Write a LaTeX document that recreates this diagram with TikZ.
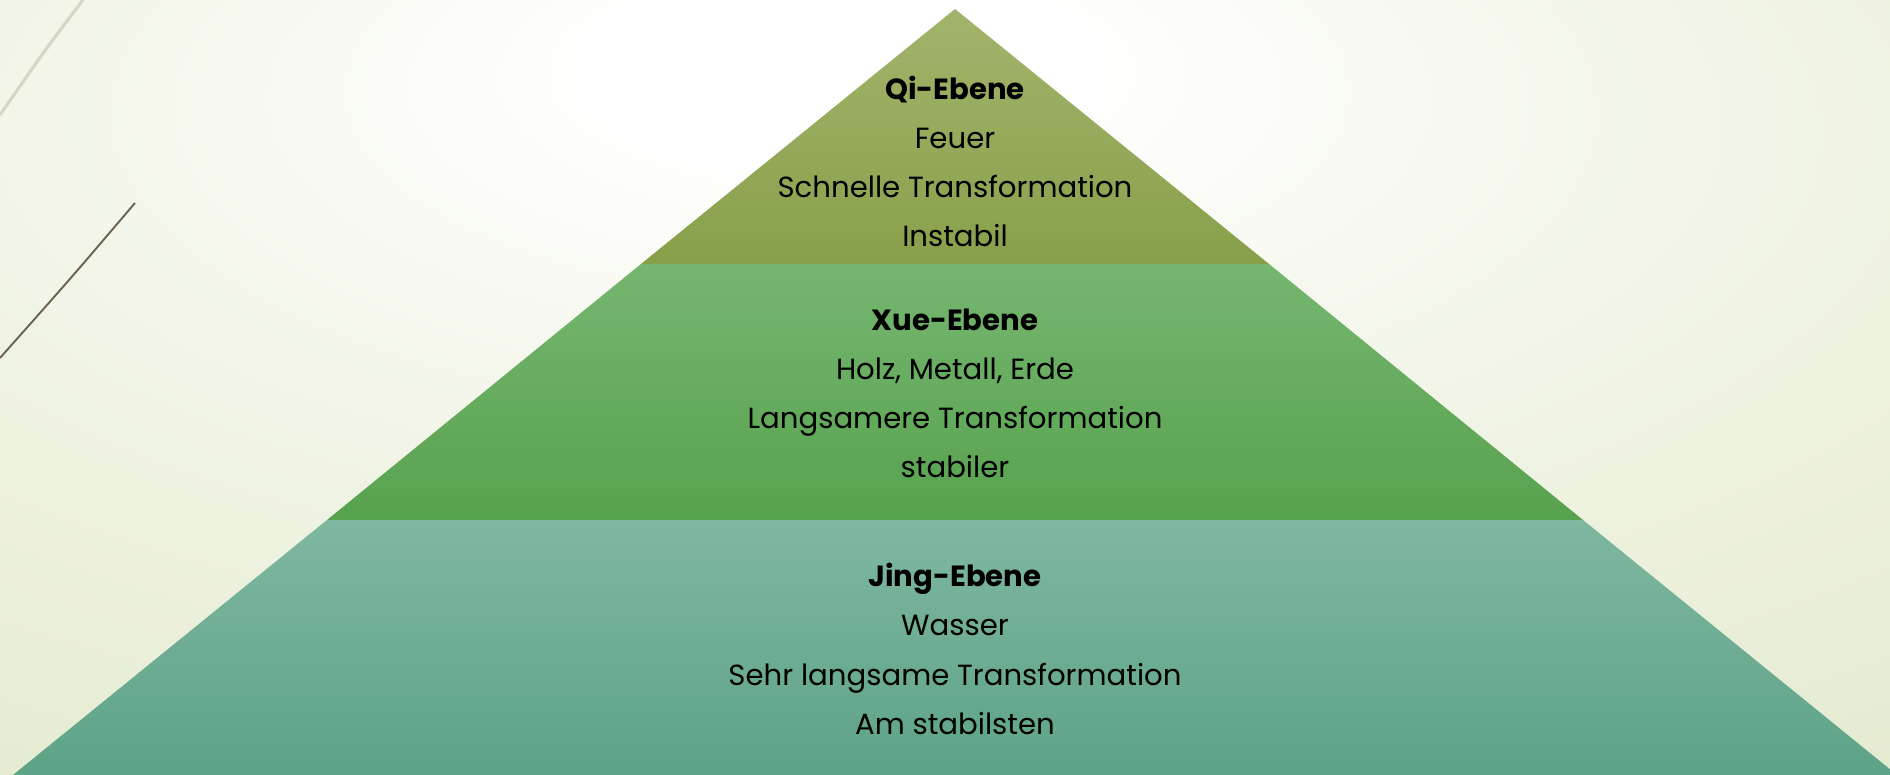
\documentclass[tikz,border=0pt]{standalone}
\usepackage{fontspec}
\setmainfont{Poppins}
\usetikzlibrary{positioning}
\definecolor{bggreen}{HTML}{E5EBD1}
\definecolor{qitop}{HTML}{A2B46C}
\definecolor{qibot}{HTML}{88A04A}
\definecolor{xuetop}{HTML}{76B670}
\definecolor{xuebot}{HTML}{57A24E}
\definecolor{jingtop}{HTML}{7FB7A0}
\definecolor{jingbot}{HTML}{5DA387}
\definecolor{twigdark}{HTML}{6B6450}
\definecolor{twiglight}{HTML}{D3D7C6}
\pgfdeclareradialshading{slidebg}{\pgfpoint{-3bp}{22bp}}{%
  color(0bp)=(white); color(6bp)=(white); color(22bp)=(white!50!bggreen);
  color(45bp)=(bggreen); color(100bp)=(bggreen)}
\tikzset{
  level/.style={align=center, font=\fontsize{8.3}{14}\selectfont, inner sep=0pt},
}
\begin{document}
\begin{tikzpicture}[x=1cm,y=1cm]
  \useasboundingbox (0,0) rectangle (18.9,7.75);
  \clip (0,0) rectangle (18.9,7.75);
  % background
  \shade[shading=slidebg] (0,0) rectangle (18.9,7.75);
  \draw[twiglight, line width=0.9pt] (0.83,7.75) .. controls (0.45,7.25) .. (0,6.6);
  \draw[twigdark, line width=0.55pt] (1.35,5.72) .. controls (0.72,4.98) .. (0,4.17);
  %
  % pyramid bands
  \shade[top color=jingtop, bottom color=jingbot] (0.13,0) -- (3.27,2.55) -- (15.83,2.55) -- (18.97,0) -- cycle;
  \shade[top color=xuetop, bottom color=xuebot] (3.27,2.55) -- (6.41,5.11) -- (12.69,5.11) -- (15.83,2.55) -- cycle;
  \shade[top color=qitop, bottom color=qibot] (6.41,5.11) -- (9.55,7.66) -- (12.69,5.11) -- cycle;
  %
  \node[level] (qi) at (9.55,6.135) {\textbf{Qi-Ebene}\\Feuer\\Schnelle Transformation\\Instabil};
  \node[level] (xue) at (9.55,3.815) {\textbf{Xue-Ebene}\\Holz, Metall, Erde\\Langsamere Transformation\\stabiler};
  \node[level] (jing) at (9.55,1.26) {\textbf{Jing-Ebene}\\Wasser\\Sehr langsame Transformation\\Am stabilsten};
  %
\end{tikzpicture}
\end{document}
